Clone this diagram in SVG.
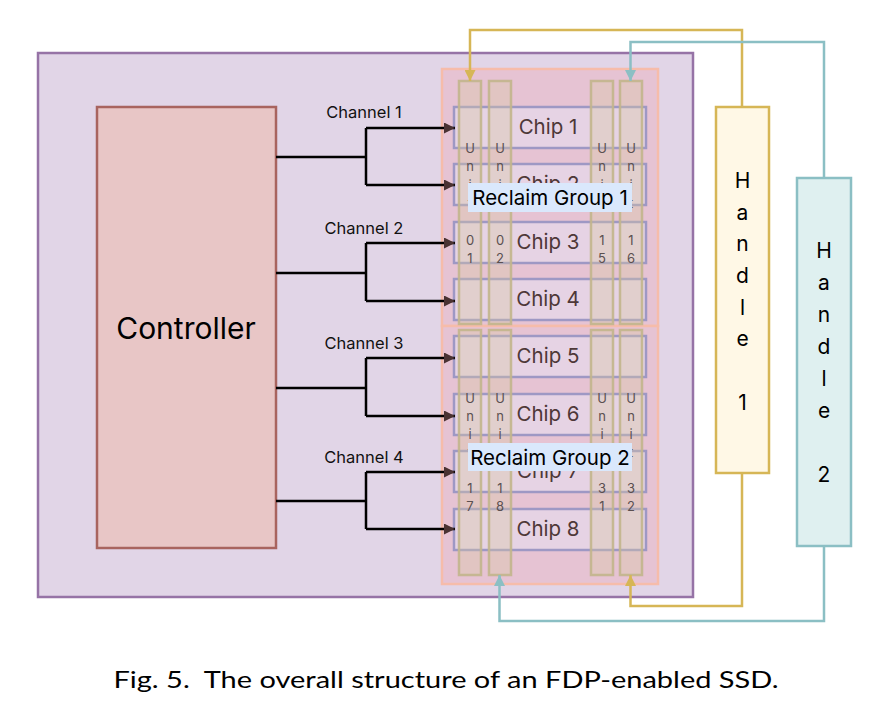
<svg xmlns="http://www.w3.org/2000/svg" width="892" height="716" viewBox="0 0 892 716">
<defs>
<style>
.lbl{font-family:Inter,"Liberation Sans",sans-serif;}
.chan{font-size:16.5px;fill:#111;text-anchor:middle;}
.chip{fill:#e6d8ea;fill-opacity:0.75;stroke:#9e98c4;stroke-width:2.5;}
.chiptxt{font-size:20.5px;fill:#4e3838;text-anchor:middle;}
.unit{fill:#d8c8a4;fill-opacity:0.35;stroke:#c2b58c;stroke-width:2.5;stroke-opacity:0.9;}
.unittxt{font-size:13px;fill:#5a5050;text-anchor:middle;}
.grp{fill:#e6c3d3;stroke:#f6bcaa;stroke-width:2.5;}
.rg{fill:#dae8fc;}
.rgtxt{font-size:20.5px;fill:#000;text-anchor:middle;}
.wire{fill:none;stroke:#000;stroke-width:2.5;}
.gold{fill:none;stroke:#d6b656;stroke-width:2.5;}
.teal{fill:none;stroke:#8bbfc4;stroke-width:2.5;}
.htxt{font-size:21px;fill:#000;text-anchor:middle;}
</style>
<marker id="ab" viewBox="0 0 10 10" refX="10" refY="5" markerWidth="4.4" markerHeight="4.4" orient="auto" markerUnits="strokeWidth"><path d="M0,0 L10,5 L0,10 z" fill="#4a3232"/></marker>
<marker id="ag" viewBox="0 0 10 10" refX="10" refY="5" markerWidth="4.4" markerHeight="4.4" orient="auto" markerUnits="strokeWidth"><path d="M0,0 L10,5 L0,10 z" fill="#d6b656"/></marker>
<marker id="at" viewBox="0 0 10 10" refX="10" refY="5" markerWidth="4.4" markerHeight="4.4" orient="auto" markerUnits="strokeWidth"><path d="M0,0 L10,5 L0,10 z" fill="#8bbfc4"/></marker>
</defs>
<rect width="892" height="716" fill="#fff"/>

<g id="ssd">
<rect x="38" y="53" width="655" height="544" fill="#e1d5e7" stroke="#9673a6" stroke-width="2.5"/>
</g>

<g id="controller">
<rect x="97" y="107" width="179" height="441" fill="#e8c6c6" stroke="#a8645f" stroke-width="2.5"/>
<text class="lbl" x="186" y="339" font-size="30" text-anchor="middle" fill="#000">Controller</text>
</g>

<g id="reclaim-group-1-box"><rect class="grp" x="442" y="69" width="216" height="257"/></g>
<g id="reclaim-group-2-box"><rect class="grp" x="442" y="326" width="216" height="258"/></g>

<g id="chip1"><rect class="chip" x="454" y="107" width="192" height="41"/><text class="lbl chiptxt" x="548" y="134">Chip 1</text></g>
<g id="chip2"><rect class="chip" x="454" y="164" width="192" height="41"/><text class="lbl chiptxt" x="548" y="191">Chip 2</text></g>
<g id="chip3"><rect class="chip" x="454" y="222" width="192" height="41"/><text class="lbl chiptxt" x="548" y="249">Chip 3</text></g>
<g id="chip4"><rect class="chip" x="454" y="279" width="192" height="41"/><text class="lbl chiptxt" x="548" y="306">Chip 4</text></g>
<g id="chip5"><rect class="chip" x="454" y="336" width="192" height="41"/><text class="lbl chiptxt" x="548" y="363">Chip 5</text></g>
<g id="chip6"><rect class="chip" x="454" y="394" width="192" height="41"/><text class="lbl chiptxt" x="548" y="421">Chip 6</text></g>
<g id="chip7"><rect class="chip" x="454" y="451" width="192" height="41"/><text class="lbl chiptxt" x="548" y="478">Chip 7</text></g>
<g id="chip8"><rect class="chip" x="454" y="509" width="192" height="41"/><text class="lbl chiptxt" x="548" y="536">Chip 8</text></g>

<g id="unit01"><rect class="unit" x="459" y="81" width="22" height="243"/><text class="lbl unittxt" x="470" y="153"><tspan x="470">U</tspan><tspan x="470" dy="18.4">n</tspan><tspan x="470" dy="18.4">i</tspan><tspan x="470" dy="18.4">t</tspan><tspan x="470" dy="36.8">0</tspan><tspan x="470" dy="18.4">1</tspan></text></g>
<g id="unit02"><rect class="unit" x="489" y="81" width="22" height="243"/><text class="lbl unittxt" x="500" y="153"><tspan x="500">U</tspan><tspan x="500" dy="18.4">n</tspan><tspan x="500" dy="18.4">i</tspan><tspan x="500" dy="18.4">t</tspan><tspan x="500" dy="36.8">0</tspan><tspan x="500" dy="18.4">2</tspan></text></g>
<g id="unit15"><rect class="unit" x="591" y="81" width="22" height="243"/><text class="lbl unittxt" x="602" y="153"><tspan x="602">U</tspan><tspan x="602" dy="18.4">n</tspan><tspan x="602" dy="18.4">i</tspan><tspan x="602" dy="18.4">t</tspan><tspan x="602" dy="36.8">1</tspan><tspan x="602" dy="18.4">5</tspan></text></g>
<g id="unit16"><rect class="unit" x="620" y="81" width="22" height="243"/><text class="lbl unittxt" x="631" y="153"><tspan x="631">U</tspan><tspan x="631" dy="18.4">n</tspan><tspan x="631" dy="18.4">i</tspan><tspan x="631" dy="18.4">t</tspan><tspan x="631" dy="36.8">1</tspan><tspan x="631" dy="18.4">6</tspan></text></g>

<g id="unit17"><rect class="unit" x="459" y="330" width="22" height="245"/><text class="lbl unittxt" x="470" y="403"><tspan x="470">U</tspan><tspan x="470" dy="18">n</tspan><tspan x="470" dy="18">i</tspan><tspan x="470" dy="18">t</tspan><tspan x="470" dy="36">1</tspan><tspan x="470" dy="18">7</tspan></text></g>
<g id="unit18"><rect class="unit" x="489" y="330" width="22" height="245"/><text class="lbl unittxt" x="500" y="403"><tspan x="500">U</tspan><tspan x="500" dy="18">n</tspan><tspan x="500" dy="18">i</tspan><tspan x="500" dy="18">t</tspan><tspan x="500" dy="36">1</tspan><tspan x="500" dy="18">8</tspan></text></g>
<g id="unit31"><rect class="unit" x="591" y="330" width="22" height="245"/><text class="lbl unittxt" x="602" y="403"><tspan x="602">U</tspan><tspan x="602" dy="18">n</tspan><tspan x="602" dy="18">i</tspan><tspan x="602" dy="18">t</tspan><tspan x="602" dy="36">3</tspan><tspan x="602" dy="18">1</tspan></text></g>
<g id="unit32"><rect class="unit" x="620" y="330" width="22" height="245"/><text class="lbl unittxt" x="631" y="403"><tspan x="631">U</tspan><tspan x="631" dy="18">n</tspan><tspan x="631" dy="18">i</tspan><tspan x="631" dy="18">t</tspan><tspan x="631" dy="36">3</tspan><tspan x="631" dy="18">2</tspan></text></g>

<g id="reclaim-group-1-label"><rect class="rg" x="468" y="183" width="164" height="29"/><text class="lbl rgtxt" x="550" y="204.5">Reclaim Group 1</text></g>
<g id="reclaim-group-2-label"><rect class="rg" x="468" y="443" width="164" height="28"/><text class="lbl rgtxt" x="550" y="464.5">Reclaim Group 2</text></g>

<g id="handle1">
<rect x="716" y="107" width="53" height="366" fill="#fff8e6" stroke="#d6b656" stroke-width="2.5"/>
<text class="lbl htxt"><tspan x="742.5" y="188">H</tspan><tspan x="742.5" y="220">a</tspan><tspan x="742.5" y="251">n</tspan><tspan x="742.5" y="283">d</tspan><tspan x="742.5" y="315">l</tspan><tspan x="742.5" y="346">e</tspan><tspan x="742.5" y="410">1</tspan></text>
</g>
<g id="handle2">
<rect x="797" y="178" width="54" height="368" fill="#dff0f0" stroke="#8bbfc4" stroke-width="2.5"/>
<text class="lbl htxt"><tspan x="824" y="258">H</tspan><tspan x="824" y="290">a</tspan><tspan x="824" y="322">n</tspan><tspan x="824" y="354">d</tspan><tspan x="824" y="386">l</tspan><tspan x="824" y="418">e</tspan><tspan x="824" y="482">2</tspan></text>
</g>

<g id="channel-labels">
<text class="lbl chan" x="364" y="118">Channel 1</text>
<text class="lbl chan" x="364" y="234">Channel 2</text>
<text class="lbl chan" x="364" y="349">Channel 3</text>
<text class="lbl chan" x="364" y="463">Channel 4</text>
</g>

<g id="connectors">
<path class="wire" d="M276,157 H366 M366,128 V185"/>
<path class="wire" d="M366,128 H455" marker-end="url(#ab)"/>
<path class="wire" d="M366,185 H455" marker-end="url(#ab)"/>
<path class="wire" d="M276,273 H366 M366,243 V301"/>
<path class="wire" d="M366,243 H455" marker-end="url(#ab)"/>
<path class="wire" d="M366,301 H455" marker-end="url(#ab)"/>
<path class="wire" d="M276,388 H366 M366,358 V416"/>
<path class="wire" d="M366,358 H455" marker-end="url(#ab)"/>
<path class="wire" d="M366,416 H455" marker-end="url(#ab)"/>
<path class="wire" d="M276,501 H366 M366,472 V529"/>
<path class="wire" d="M366,472 H455" marker-end="url(#ab)"/>
<path class="wire" d="M366,529 H455" marker-end="url(#ab)"/>

<path class="gold" d="M742,107 V30 H470 V81" marker-end="url(#ag)"/>
<path class="gold" d="M742,473 V606 H630.5 V575" marker-end="url(#ag)"/>
<path class="teal" d="M824,178 V42 H630.5 V81" marker-end="url(#at)"/>
<path class="teal" d="M824,546 V621 H499.5 V575" marker-end="url(#at)"/>
</g>

<text x="446" y="688" font-family="Lato,'Open Sans',sans-serif" font-size="24" text-anchor="middle" fill="#000" textLength="665" lengthAdjust="spacingAndGlyphs">Fig. 5.&#160; The overall structure of an FDP-enabled SSD.</text>
</svg>
